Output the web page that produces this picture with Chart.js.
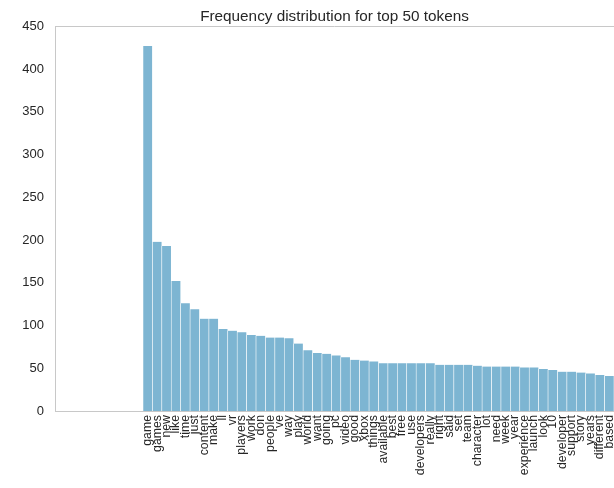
<!DOCTYPE html>
<html>
<head>
<meta charset="utf-8">
<script src="https://cdn.jsdelivr.net/npm/chart.js@4/dist/chart.umd.min.js"></script>
<style>
html,body{margin:0;padding:0;background:#fff;}
#wrap{width:614px;height:488px;position:relative;}
</style>
</head>
<body>
<div id="wrap"><canvas id="c" width="614" height="488"></canvas></div>
<script>
const tokens = ["game","games","new","like","time","just","content","make","ll","vr",
"players","work","don","people","ve","way","play","world","want","going",
"pc","video","good","xbox","things","available","best","free","use","developers",
"really","right","said","set","team","character","lot","need","week","year",
"experience","launch","look","10","developer","support","story","years","different","based"];
const counts = [427,198,193,152,126,119,108,108,96,94,
92,89,88,86,86,85,79,71,68,67,
65,63,60,59,58,56,56,56,56,56,
56,54,54,54,54,53,52,52,52,52,
51,51,49,48,46,46,45,44,42,41];
const yTicks = [0,50,100,150,200,250,300,350,400,450];

const font = "'Liberation Sans', Arial, sans-serif";
const spineColor = '#c8c8c8';

const topSpine = {
  id: 'topSpine',
  afterDraw(chart) {
    const {ctx, chartArea} = chart;
    ctx.save();
    ctx.strokeStyle = spineColor;
    ctx.lineWidth = 1;
    ctx.beginPath();
    ctx.moveTo(chartArea.left, Math.round(chartArea.top) + 0.5);
    ctx.lineTo(chartArea.right, Math.round(chartArea.top) + 0.5);
    ctx.stroke();
    ctx.restore();
  }
};

new Chart(document.getElementById('c'), {
  type: 'bar',
  data: {
    datasets: [{
      data: counts.map((v, i) => ({x: i, y: v})),
      backgroundColor: '#7db5d2',
      borderColor: '#ffffff',
      borderWidth: {left: 0.6, right: 0.6, top: 0, bottom: 0},
      barPercentage: 1,
      categoryPercentage: 1
    }]
  },
  plugins: [topSpine],
  options: {
    responsive: false,
    animation: false,
    layout: {padding: {left: 0, right: 0, top: 0, bottom: 0}},
    plugins: {
      legend: {display: false},
      tooltip: {enabled: false},
      title: {
        display: true,
        fullSize: false,
        text: 'Frequency distribution for top 50 tokens',
        color: '#262626',
        font: {family: font, size: 15.3, weight: 'normal'},
        padding: {top: 8, bottom: 0}
      }
    },
    scales: {
      x: {
        type: 'linear',
        offset: false,
        min: -9.84,
        max: 49.5,
        grid: {display: false, drawTicks: false},
        border: {display: true, color: spineColor},
        afterBuildTicks(scale) {
          scale.ticks = tokens.map((_, i) => ({value: i}));
        },
        ticks: {
          autoSkip: false,
          minRotation: 90,
          maxRotation: 90,
          padding: 4,
          color: '#262626',
          font: {family: font, size: 12.3},
          callback: (v) => tokens[v] !== undefined ? tokens[v] : ''
        },
        afterFit(scale) {
          scale.height = 77;
          scale.paddingLeft = 0;
          scale.paddingRight = 0;
        }
      },
      y: {
        min: 0,
        max: 450,
        grid: {display: false, drawTicks: false},
        border: {display: true, color: spineColor},
        afterBuildTicks(scale) {
          scale.ticks = yTicks.map(v => ({value: v}));
        },
        ticks: {
          padding: 11,
          color: '#262626',
          font: {family: font, size: 13}
        },
        afterFit(scale) {
          scale.width = 55;
        }
      }
    }
  }
});
</script>
</body>
</html>
